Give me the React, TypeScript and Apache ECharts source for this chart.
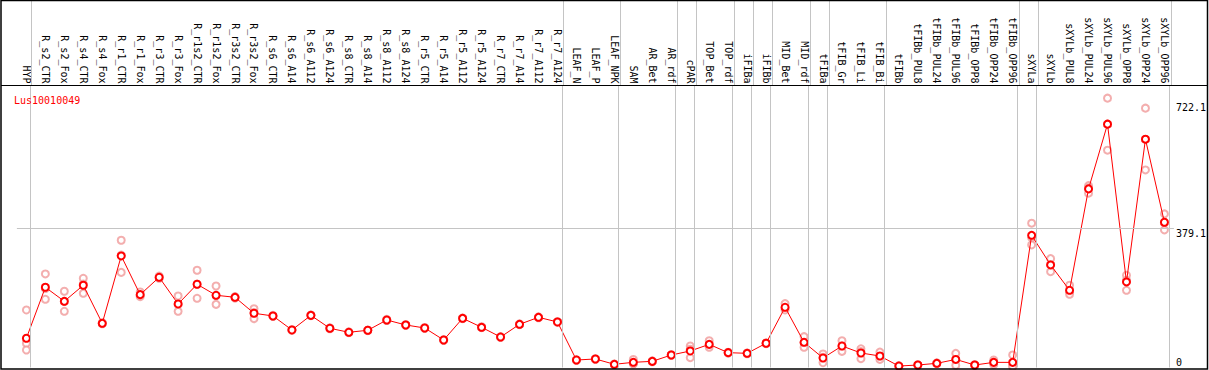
import React, { useEffect, useRef } from "react";
import * as echarts from "echarts";

const categories = [
  "HYP", "R_s2_CTR", "R_s2_Fox", "R_s4_CTR", "R_s4_Fox", "R_r1_CTR", "R_r1_Fox", "R_r3_CTR", "R_r3_Fox",
  "R_r1s2_CTR", "R_r1s2_Fox", "R_r3s2_CTR", "R_r3s2_Fox", "R_s6_CTR", "R_s6_A14", "R_s6_A112", "R_s6_A124",
  "R_s8_CTR", "R_s8_A14", "R_s8_A112", "R_s8_A124", "R_r5_CTR", "R_r5_A14", "R_r5_A112", "R_r5_A124",
  "R_r7_CTR", "R_r7_A14", "R_r7_A112", "R_r7_A124", "LEAF_N", "LEAF_P", "LEAF_NPK", "SAM", "AR_Bet", "AR_rdf",
  "cPAR", "TOP_Bet", "TOP_rdf", "iFIBa", "iFIBb", "MID_Bet", "MID_rdf", "tFIBa", "tFIB_Gr", "tFIB_Li", "tFIB_Bi",
  "tFIBb", "tFIBb_PUL8", "tFIBb_PUL24", "tFIBb_PUL96", "tFIBb_OPP8", "tFIBb_OPP24", "tFIBb_OPP96",
  "sXYLa", "sXYLb", "sXYLb_PUL8", "sXYLb_PUL24", "sXYLb_PUL96", "sXYLb_OPP8", "sXYLb_OPP24", "sXYLb_OPP96",
];

const means = [
  79.6, 218.5, 180.3, 224, 120.4, 303.8, 198.4, 245.7, 173, 226.7,
  196.7, 191.2, 147.7, 140.3, 102.2, 142, 106.8, 95.9, 101.4, 129.4,
  115.8, 107.6, 74.9, 134, 109.5, 83, 117.6, 136.7, 124, 20.4,
  23.2, 8.7, 14.1, 16.8, 34, 45, 63, 40.4, 38.6, 66,
  164, 68.6, 25.9, 58.6, 39.5, 31.3, 4, 6.8, 11.4, 22,
  6.8, 14, 14, 360, 279.3, 210.3, 486.4, 662.7, 233, 621.8, 395.6,
];

const repHigh = [
  156.7, 254.8, 207.6, 243, 122, 346.5, 205.7, 249, 194.8, 264.8,
  222, 193, 160, 142, 103, 143, 108, 97, 102, 131,
  117, 109, 76, 135, 111, 84, 119, 138, 125, 21,
  24, 9.5, 22, 18, 35, 58.6, 73, 41.5, 39.5, 67,
  174, 84, 36.8, 73, 51, 42, 5, 8, 12.5, 38.6,
  8, 20.4, 34, 393, 296.5, 224, 495.4, 733.5, 251.2, 706.3, 418.3,
];

const repMid = [
  66, 215, 180, 227, 120, 306, 196.5, 245, 171, 227,
  196, 191.6, 150, 140, 102.5, 142, 107, 96, 101.5, 129,
  116, 107.3, 74.8, 134, 109, 83, 117.3, 136.6, 124, 20.3,
  23, 8.6, 10.8, 16.9, 34, 49.7, 61, 40.2, 38.8, 66,
  161.3, 66.8, 27.9, 58.8, 43.5, 29.9, 4, 6.9, 11.2, 21.4,
  6.9, 14, 6, 353.2, 280.4, 207.4, 489.1, 662.8, 237.5, 621.1, 393.8,
];

const repLow = [
  47.7, 185.8, 153.1, 202, 119, 259, 193, 243, 153, 188.5,
  172, 189, 133, 139, 101, 141, 105.5, 95, 100.5, 128,
  114.5, 106.5, 74, 133, 108.5, 82, 116.5, 135.5, 123, 19.5,
  22.5, 8, 9.5, 15.5, 33, 26.7, 55, 39.5, 37.5, 65,
  156.7, 55, 13, 44, 24, 22, 3, 5.5, 10.5, 6,
  5.5, 7.6, 2, 333.8, 261, 199.5, 474.7, 591.8, 210.3, 538, 374.7,
];

// indices of the last category of each group (separator drawn just after it)
const groupEnds = [-1, 0, 28, 31, 34, 35, 37, 38, 39, 41, 42, 45, 52, 53, 60];

const yTickLabels = [379.1, 722.1];
const yZeroLabel = [0];
const gridValue = 379.1;
const geneName = "Lus10010049";

const FONT = "'DejaVu Sans Mono', monospace";
const SEP_COLOR = "#c4c4c4";

export default function App() {
  const ref = useRef<HTMLDivElement>(null);

  useEffect(() => {
    if (!ref.current) return;
    const chart = echarts.init(ref.current, undefined, { renderer: "svg" });
    const n = categories.length;
    const yMax = 768;
    const sepMarkLine = {
      silent: true,
      symbol: "none",
      label: { show: false },
      lineStyle: { color: SEP_COLOR, type: "solid", width: 1 },
      data: groupEnds.map((k) => ({ xAxis: k + 0.23 })),
    };
    const yLabelBase = {
      margin: 2,
      color: "#000",
      fontFamily: FONT,
      fontSize: 10,
      formatter: (v: number) => String(v),
    };
    const option: any = {
      animation: false,
      backgroundColor: "#ffffff",
      title: {
        text: geneName,
        left: 9,
        top: 90,
        textStyle: { color: "#ff0000", fontFamily: FONT, fontSize: 10, fontWeight: "normal" },
      },
      grid: [
        { left: 16.9, width: 19 * n, top: 85.5, bottom: 2.5, containLabel: false },
        { left: 16.9, width: 19 * n, top: 0, height: 85.5, containLabel: false },
      ],
      xAxis: [
        {
          type: "category",
          gridIndex: 0,
          data: categories,
          position: "top",
          boundaryGap: true,
          axisLine: { show: false, onZero: false },
          axisTick: { show: false },
          splitLine: { show: false },
          axisLabel: {
            interval: 0,
            rotate: 90,
            margin: 2,
            color: "#000",
            fontFamily: FONT,
            fontSize: 10,
          },
        },
        { type: "value", gridIndex: 0, min: -0.5, max: n - 0.5, position: "bottom", show: false },
        { type: "value", gridIndex: 1, min: -0.5, max: n - 0.5, position: "bottom", show: false },
      ],
      yAxis: [
        {
          type: "value",
          gridIndex: 0,
          min: 0,
          max: yMax,
          position: "right",
          axisLine: { show: false },
          axisTick: { show: false },
          splitLine: { show: false },
          axisLabel: { ...yLabelBase, customValues: yTickLabels, verticalAlign: "top" },
        },
        {
          type: "value",
          gridIndex: 0,
          min: 0,
          max: yMax,
          position: "right",
          axisLine: { show: false },
          axisTick: { show: false },
          splitLine: { show: false },
          axisLabel: { ...yLabelBase, customValues: yZeroLabel, verticalAlign: "bottom" },
        },
        { type: "value", gridIndex: 1, min: 0, max: 1, show: false },
      ],
      series: [
        {
          name: "separators",
          type: "scatter",
          xAxisIndex: 1,
          yAxisIndex: 0,
          data: [],
          silent: true,
          markLine: sepMarkLine,
        },
        {
          name: "separatorsHeader",
          type: "scatter",
          xAxisIndex: 2,
          yAxisIndex: 2,
          data: [],
          silent: true,
          markLine: sepMarkLine,
        },
        {
          name: "grid",
          type: "scatter",
          xAxisIndex: 0,
          yAxisIndex: 0,
          data: [],
          silent: true,
          markLine: {
            silent: true,
            symbol: "none",
            label: { show: false },
            lineStyle: { color: SEP_COLOR, type: "solid", width: 1 },
            data: [{ yAxis: gridValue }],
          },
        },
        ...[repHigh, repMid, repLow].map((arr) => ({
          type: "scatter",
          xAxisIndex: 0,
          yAxisIndex: 0,
          data: arr,
          symbol: "emptyCircle",
          symbolSize: 7,
          itemStyle: { color: "#f09a9a", borderColor: "#f09a9a", borderWidth: 1 },
          z: 3,
        })),
        {
          name: "mean",
          type: "line",
          xAxisIndex: 0,
          yAxisIndex: 0,
          data: means,
          symbol: "emptyCircle",
          symbolSize: 7,
          showAllSymbol: true,
          lineStyle: { color: "#ff0000", width: 1 },
          itemStyle: { color: "#ff0000", borderColor: "#ff0000", borderWidth: 1 },
          z: 4,
        },
      ],
      graphic: [
        {
          type: "rect",
          shape: { x: 1, y: 0.5, width: 1206.5, height: 368.5 },
          style: { fill: "none", stroke: "#000", lineWidth: 1.5 },
          silent: true,
          z: 10,
        },
        {
          type: "line",
          shape: { x1: 1, y1: 85.5, x2: 1208, y2: 85.5 },
          style: { stroke: "#000", lineWidth: 1 },
          silent: true,
          z: 10,
        },
      ],
    };
    chart.setOption(option);
    return () => chart.dispose();
  }, []);

  return (
    <div
      ref={ref}
      style={{ position: "absolute", left: 0, top: 0, width: 1209, height: 370 }}
    />
  );
}
